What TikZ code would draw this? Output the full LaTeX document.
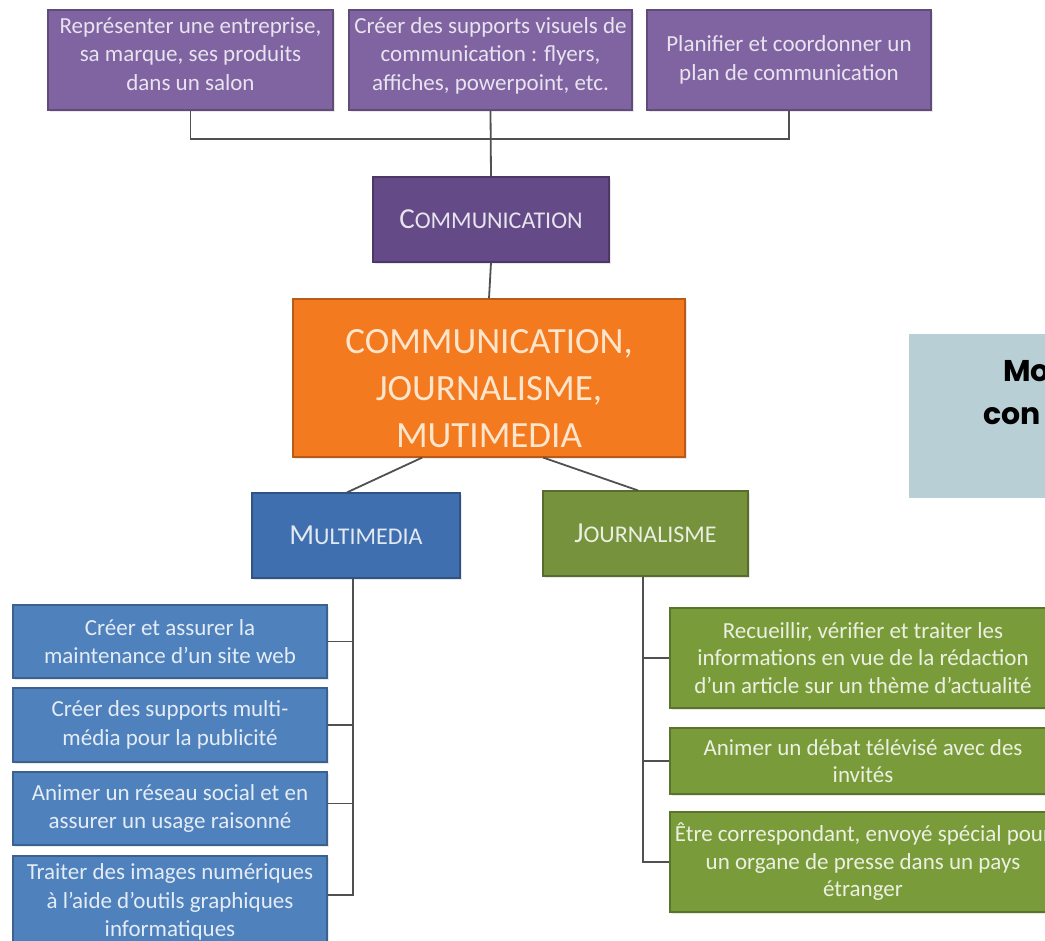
\documentclass[tikz,border=0pt]{standalone}
\usepackage{fontspec}
\setmainfont{Carlito}
\newfontfamily\gothic{Poppins}
\usetikzlibrary{calc,shadows}
\definecolor{purpleT}{HTML}{8064A2}
\definecolor{purpleC}{HTML}{654A88}
\definecolor{blueC}{HTML}{3F6FAE}
\definecolor{blueB}{HTML}{4F81BD}
\definecolor{greenJ}{HTML}{76923C}
\definecolor{greenB}{HTML}{7A9B3A}
\definecolor{orangeM}{HTML}{F47A1F}
\definecolor{sideBox}{HTML}{B8CFD6}
\definecolor{lineC}{HTML}{505050}
\newcommand{\fakesc}[2]{{\fontsize{29}{30}\selectfont #1}{\fontsize{24}{28}\selectfont #2}}
\tikzset{
  box/.style={rectangle, draw=#1!75!black, fill=#1, line width=1.2pt, align=center, inner sep=2pt,
    drop shadow={opacity=0.18, shadow xshift=2pt, shadow yshift=-2pt}},
  toptxt/.style={text=purpleT!18!white, font=\fontsize{23}{28.5}\selectfont},
  bluetxt/.style={text=blueB!15!white, font=\fontsize{23}{28.5}\selectfont},
  greentxt/.style={text=greenB!15!white, font=\fontsize{23}{27.5}\selectfont},
  link/.style={draw=lineC, line width=1.8pt},
}
\begin{document}
\begin{tikzpicture}[x=1pt,y=-1pt]
\useasboundingbox (0,0) rectangle (1045,941);
\clip (0,0) rectangle (1045,941);
% top boxes
\node[box=purpleT, toptxt, minimum width=285, minimum height=100] (t1) at (190.5,60) {Représenter une entreprise,\\sa marque, ses produits\\dans un salon\rule[-12pt]{0pt}{12pt}};
\node[box=purpleT, toptxt, minimum width=283, minimum height=100] (t2) at (490.5,60) {Créer des supports visuels de\\communication : flyers,\\affiches, powerpoint, etc.\rule[-12pt]{0pt}{12pt}};
\node[box=purpleT, toptxt, minimum width=284, minimum height=100] (t3) at (789,60) {Planifier et coordonner un\\plan de communication};
% communication
\node[box=purpleC, text=purpleC!15!white, minimum width=236, minimum height=85] (comm) at (491,219.5) {\fakesc{C}{OMMUNICATION}};
% main
\node[box=orangeM, text=orange!20!white, font=\fontsize{37}{47}\selectfont, minimum width=392, minimum height=158] (main) at (489,378) {\rule{0pt}{46pt}COMMUNICATION,\\JOURNALISME,\\MUTIMEDIA};
% second level
\node[box=blueC, text=blueC!15!white, minimum width=208, minimum height=85] (mm) at (356,535.5) {\fakesc{M}{ULTIMEDIA}};
\node[box=greenJ, text=greenJ!15!white, minimum width=205, minimum height=85] (jo) at (645.5,533.5) {\fakesc{J}{OURNALISME}};
% side box
\node[rectangle, fill=sideBox, minimum width=151, minimum height=164] (side) at (984.5,416) {};
\node[anchor=west, font=\gothic\bfseries\fontsize{30}{34}\selectfont, inner sep=0pt] (sideA) at (1003,371) {Mo};
\node[anchor=west, font=\gothic\bfseries\fontsize{30}{34}\selectfont, inner sep=0pt] (sideB) at (983,416) {con};
% blue children
\node[box=blueB, bluetxt, minimum width=314, minimum height=73] (b1) at (170,641.5) {Créer et assurer la\\maintenance d’un site web};
\node[box=blueB, bluetxt, minimum width=314, minimum height=74] (b2) at (170,725) {Créer des supports multi-\\média pour la publicité};
\node[box=blueB, bluetxt, minimum width=314, minimum height=73] (b3) at (170,808.5) {Animer un réseau social et en\\assurer un usage raisonné};
\node[box=blueB, bluetxt, minimum width=314, minimum height=92] (b4) at (170,902) {Traiter des images numériques\\à l’aide d’outils graphiques\\informatiques};
% green children
\node[box=greenB, greentxt, minimum width=386, minimum height=100] (g1) at (863,658) {Recueillir, vérifier et traiter les\\informations en vue de la rédaction\\d’un article sur un thème d’actualité};
\node[box=greenB, greentxt, minimum width=386, minimum height=66] (g2) at (863,761) {Animer un débat télévisé avec des\\invités};
\node[box=greenB, greentxt, minimum width=386, minimum height=100] (g3) at (863,862) {Être correspondant, envoyé spécial pour\\un organe de presse dans un pays\\étranger};
% connectors
\coordinate (bus) at (490.5,139);
\draw[link] (t1.south) |- (bus);
\draw[link] (t3.south) |- (bus);
\draw[link] (t2.south) -- (comm.north);
\draw[link] (comm.south) -- (main.north);
\draw[link] ($(main.south west)!0.33!(main.south east)$) -- ($(mm.north west)!0.457!(mm.north east)$);
\draw[link] ($(main.south west)!0.638!(main.south east)$) -- ($(jo.north west)!0.463!(jo.north east)$);
\coordinate (mmA) at ($(mm.south)+(-3,0)$);
\coordinate (b3p) at ($(b3.east)+(0,-5)$);
\coordinate (b4p) at ($(b4.east)+(0,-7)$);
\draw[link] (mmA) |- (b4p);
\draw[link] (b1.east) -- (b1.east -| mmA);
\draw[link] (b2.east) -- (b2.east -| mmA);
\draw[link] (b3p) -- (b3p -| mmA);
\coordinate (joA) at ($(jo.south)+(-2.5,0)$);
\draw[link] (joA) |- (g3.west);
\draw[link] (g1.west) -- (g1.west -| joA);
\draw[link] (g2.west) -- (g2.west -| joA);
\end{tikzpicture}
\end{document}
